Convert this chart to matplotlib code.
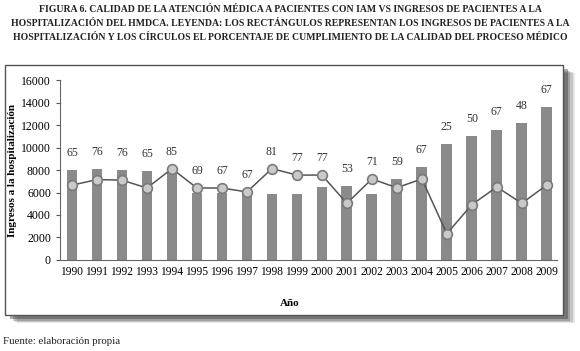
import matplotlib.pyplot as plt
from matplotlib.patches import Rectangle
import numpy as np

# Datos
anios = [1990, 1991, 1992, 1993, 1994, 1995, 1996, 1997, 1998, 1999,
         2000, 2001, 2002, 2003, 2004, 2005, 2006, 2007, 2008, 2009]
ingresos = [8000, 8100, 8000, 7900, 7800, 6000, 6000, 6000, 5900, 5900,
            6500, 6600, 5900, 7200, 8300, 10300, 11000, 11600, 12150, 13600]
# posición de los círculos (escala del eje izquierdo)
circulos = [6650, 7150, 7100, 6400, 8120, 6400, 6400, 6050, 8120, 7550,
            7550, 5040, 7200, 6430, 7200, 2340, 4920, 6490, 5040, 6670]
calidad = [65, 76, 76, 65, 85, 69, 67, 67, 81, 77,
           77, 53, 71, 59, 67, 25, 50, 67, 48, 67]

titulo = [
    "FIGURA 6. CALIDAD DE LA ATENCIÓN MÉDICA A PACIENTES CON IAM VS INGRESOS DE PACIENTES A LA",
    "HOSPITALIZACIÓN DEL HMDCA. LEYENDA: LOS RECTÁNGULOS REPRESENTAN LOS INGRESOS DE PACIENTES A LA",
    "HOSPITALIZACIÓN Y LOS CÍRCULOS EL PORCENTAJE DE CUMPLIMIENTO DE LA CALIDAD DEL PROCESO MÉDICO",
]

plt.rcParams['font.family'] = ['Liberation Serif', 'DejaVu Serif']

fig = plt.figure(figsize=(5.8, 3.51), dpi=100)

# recuadro con sombra
for i, a in enumerate([0.12, 0.18, 0.25, 0.4]):
    d = 0.004 * (4 - i)
    fig.patches.append(Rectangle((0.0086 + d + 0.005, 0.1026 - d - 0.008), 0.962, 0.7124,
                                 transform=fig.transFigure, facecolor='#333333',
                                 edgecolor='none', alpha=a, zorder=-2))
fig.patches.append(Rectangle((0.0086, 0.1026), 0.962, 0.7124, transform=fig.transFigure,
                             facecolor='white', edgecolor='#555555', linewidth=1.0, zorder=-1))

ax = fig.add_axes([0.1034, 0.2593, 0.8566, 0.5127])
ax.set_zorder(3)
ax.set_facecolor('none')
x = np.arange(len(anios))

ax.bar(x, ingresos, width=0.43, color='#8a8a8a', zorder=2)
ax.plot(x, circulos, color='#555555', linewidth=1.1, zorder=3)
ax.plot(x, circulos, 'o', markersize=7, markerfacecolor='#c9c9c9',
        markeredgecolor='#7a7a7a', markeredgewidth=1.2, zorder=4)

for xi, b, c, v in zip(x, ingresos, circulos, calidad):
    ax.annotate(str(v), (xi, max(b, c)), xytext=(0, 8), textcoords='offset points',
                ha='center', va='bottom', fontsize=8.5, color='#333333')

ax.set_xlim(-0.48, len(anios) - 0.6)
ax.set_ylim(0, 16000)
ax.set_yticks(range(0, 16001, 2000))
ax.set_xticks(x)
ax.set_xticklabels(anios, fontsize=8.3)
ax.tick_params(axis='y', labelsize=8.5, length=3, color='#555555')
ax.tick_params(axis='x', length=0, pad=4)
for s in ['top', 'right']:
    ax.spines[s].set_visible(False)
for s in ['left', 'bottom']:
    ax.spines[s].set_color('#666666')

ax.set_ylabel('Ingresos a la hospitalización', fontsize=8, fontweight='bold')
ax.yaxis.set_label_coords(-0.087, 0.5)
fig.text(0.5, 1 - 304 / 351, 'Año', ha='center', va='center', fontsize=8, fontweight='bold')

for i, linea in enumerate(titulo):
    fig.text(0.5, 1 - (9 + 14.5 * i) / 351, linea, ha='center', va='center',
             fontsize=7.0, fontweight='bold', color='#222222')

fig.text(0.006, 1 - 341 / 351, 'Fuente: elaboración propia', ha='left', va='center',
         fontsize=7.8, color='#222222')

fig.savefig('out.png', dpi=100)
